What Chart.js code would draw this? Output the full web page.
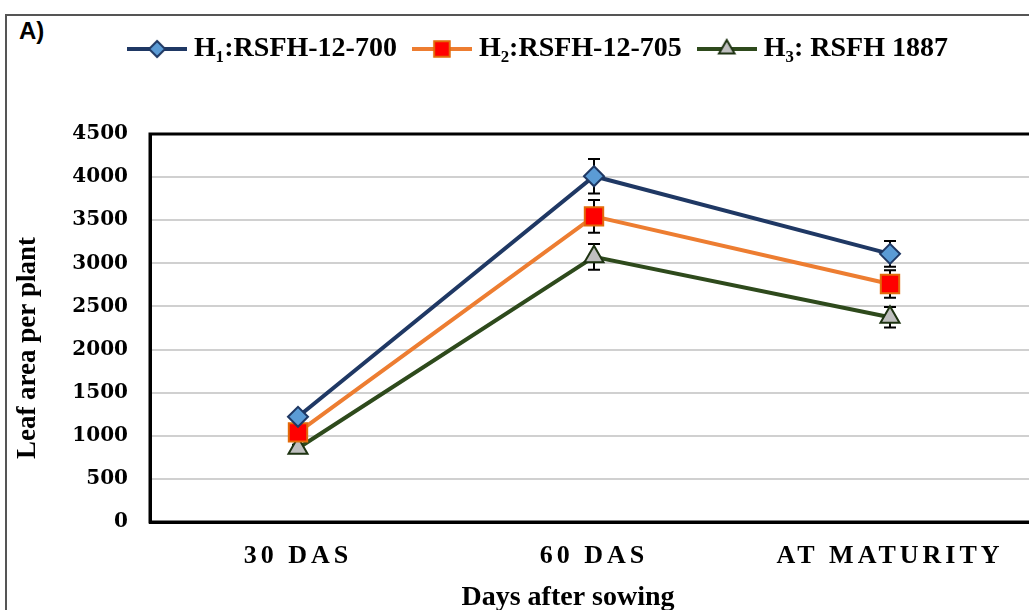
<!DOCTYPE html>
<html>
<head>
<meta charset="utf-8">
<script src="https://cdn.jsdelivr.net/npm/chart.js@4.4.1/dist/chart.umd.min.js"></script>
<style>
  html, body { margin: 0; padding: 0; background: #fff; overflow: hidden; width: 1029px; height: 610px; }
  .frame { position: absolute; left: 5px; top: 14px; width: 1100px; height: 700px; border: 2px solid #555; }
  .tag { position: absolute; left: 19px; top: 17px; font: bold 24px "Liberation Sans", Arial, sans-serif; color: #000; }
  #wrap { position: absolute; left: 0; top: 0; width: 1053px; height: 610px; }
</style>
</head>
<body>
<div class="frame"></div>
<div class="tag">A)</div>
<div id="wrap"><canvas id="leafChart" width="1053" height="610"></canvas></div>
<script>
// data
const categories = ["30 DAS", "60 DAS", "AT MATURITY"];
const seriesNames = ["H\u2081:RSFH-12-700", "H\u2082:RSFH-12-705", "H\u2083: RSFH 1887"];
const h1Values = [1220, 4010, 3110];
const h2Values = [1040, 3545, 2760];
const h3Values = [855, 3075, 2375];
const h1Errors = [40, 200, 150];
const h2Errors = [40, 190, 160];
const h3Errors = [40, 150, 120];
const yTicks = [0, 500, 1000, 1500, 2000, 2500, 3000, 3500, 4000, 4500];

const serif = "'Liberation Serif', 'Times New Roman', serif";

// marker + line sample for the legend
function legendIcon(lineColor, fill, border, style, radius) {
  const c = document.createElement("canvas");
  c.width = 60;
  c.height = 26;
  const g = c.getContext("2d");
  g.strokeStyle = lineColor;
  g.lineWidth = 4;
  g.beginPath();
  g.moveTo(0, 13);
  g.lineTo(60, 13);
  g.stroke();
  g.fillStyle = fill;
  g.strokeStyle = border;
  g.lineWidth = 2;
  g.beginPath();
  if (style === "rectRot") {
    g.moveTo(30, 13 - radius); g.lineTo(30 + radius, 13); g.lineTo(30, 13 + radius); g.lineTo(30 - radius, 13);
  } else if (style === "rect") {
    const s = radius * Math.SQRT1_2;
    g.rect(30 - s, 13 - s, 2 * s, 2 * s);
  } else {
    g.moveTo(30, 13 - radius); g.lineTo(30 + radius * 0.866, 13 + radius * 0.5); g.lineTo(30 - radius * 0.866, 13 + radius * 0.5);
  }
  g.closePath();
  g.fill();
  g.stroke();
  return c;
}

const styles = [
  { line: "#1f3864", fill: "#5b9bd5", border: "#1f3864", point: "rectRot", r: 10 },
  { line: "#ed7d31", fill: "#ff0000", border: "#e26b0a", point: "rect", r: 13 },
  { line: "#2e4a1c", fill: "#bfbfbf", border: "#1e3312", point: "triangle", r: 11 },
];
const allValues = [h1Values, h2Values, h3Values];
const allErrors = [h1Errors, h2Errors, h3Errors];

const datasets = allValues.map((vals, i) => ({
  label: seriesNames[i],
  data: vals,
  errors: allErrors[i],
  borderColor: styles[i].line,
  borderWidth: 4,
  backgroundColor: styles[i].fill,
  pointStyle: styles[i].point,
  pointRadius: styles[i].r,
  pointBackgroundColor: styles[i].fill,
  pointBorderColor: styles[i].border,
  pointBorderWidth: 2,
  tension: 0,
}));

// empty band between the legend and the plot
const spacer = {
  id: "spacer",
  beforeInit(chart) {
    Chart.layouts.addBox(chart, {
      position: "top",
      weight: 500,
      fullSize: true,
      options: {},
      top: 0, bottom: 0, left: 0, right: 0, width: 0, height: 0,
      isHorizontal() { return true; },
      update(maxWidth) { this.width = maxWidth; this.height = 61; },
      draw() {},
    });
  },
};

const errorBars = {
  id: "errorBars",
  beforeDatasetsDraw(chart) {
    const ctx = chart.ctx;
    const y = chart.scales.y;
    ctx.save();
    ctx.strokeStyle = "#000";
    ctx.lineWidth = 2;
    chart.data.datasets.forEach((ds, di) => {
      const meta = chart.getDatasetMeta(di);
      meta.data.forEach((pt, i) => {
        const top = y.getPixelForValue(ds.data[i] + ds.errors[i]);
        const bot = y.getPixelForValue(ds.data[i] - ds.errors[i]);
        ctx.beginPath();
        ctx.moveTo(pt.x, top); ctx.lineTo(pt.x, bot);
        ctx.moveTo(pt.x - 6, top); ctx.lineTo(pt.x + 6, top);
        ctx.moveTo(pt.x - 6, bot); ctx.lineTo(pt.x + 6, bot);
        ctx.stroke();
      });
    });
    ctx.restore();
  },
  afterDraw(chart) {
    // dark box round the plot area
    const a = chart.chartArea;
    const ctx = chart.ctx;
    ctx.save();
    ctx.strokeStyle = "#000";
    ctx.lineWidth = 3;
    ctx.strokeRect(a.left, a.top, a.right - a.left, a.bottom - a.top);
    ctx.restore();
  },
  afterLayout(chart) {
    // legend sits a little right of centre in the original
    chart.legend.left += 12;
    chart.legend.right += 12;
  },
  afterUpdate(chart) {
    const sx = chart.scales.x;
    const sy = chart.scales.y;
    if (!sx._patched) {
      const origLabels = sx.drawLabels;
      sx.drawLabels = function (area) {
        const c = this.ctx;
        const old = c.letterSpacing;
        c.letterSpacing = "4px";
        origLabels.call(this, area);
        c.letterSpacing = old;
      };
      const origTitle = sx.drawTitle;
      sx.drawTitle = function () {
        this.ctx.save();
        this.ctx.translate(-26, 0);
        origTitle.call(this);
        this.ctx.restore();
      };
      const origYTitle = sy.drawTitle;
      sy.drawTitle = function () {
        this.ctx.save();
        this.ctx.translate(0, 20);
        origYTitle.call(this);
        this.ctx.restore();
      };
      sx._patched = true;
    }
  },
};

const ctx = document.getElementById("leafChart");

const leafChart = new Chart(ctx, {
  type: "line",
  data: { labels: categories, datasets: datasets },
  options: {
    responsive: false,
    animation: false,
    devicePixelRatio: 1,
    layout: { padding: { left: 12, right: 7, top: 13, bottom: 0 } },
    plugins: {
      tooltip: { enabled: false },
      legend: {
        display: true,
        position: "top",
        labels: {
          usePointStyle: true,
          pointStyleWidth: 46,
          padding: 22,
          color: "#000",
          font: { family: serif, size: 28, weight: "bold" },
          generateLabels(chart) {
            return chart.data.datasets.map((ds, i) => ({
              text: ds.label,
              fontColor: "#000",
              pointStyle: legendIcon(styles[i].line, styles[i].fill, styles[i].border, styles[i].point, styles[i].r - 2),
              lineWidth: 0,
              strokeStyle: "transparent",
              fillStyle: "transparent",
              datasetIndex: i,
              hidden: false,
            }));
          },
        },
      },
    },
    scales: {
      x: {
        offset: true,
        grid: { display: false, drawTicks: false, offset: true },
        border: { display: true, color: "#000", width: 3 },
        ticks: {
          padding: 19,
          color: "#000",
          font: { family: serif, size: 26, weight: "bold" },
        },
        title: {
          display: true,
          text: "Days after sowing",
          color: "#000",
          font: { family: serif, size: 28, weight: "bold", lineHeight: 0.9 },
          padding: { top: 6, bottom: 0 },
        },
        afterFit(scale) { scale.height = 88; },
      },
      y: {
        min: 0,
        max: 4500,
        afterBuildTicks(scale) { scale.ticks = yTicks.map((v) => ({ value: v })); },
        grid: { color: "#d0d0d0", lineWidth: 2, drawTicks: false },
        border: { display: true, color: "#000", width: 3 },
        ticks: {
          padding: 22,
          color: "#000",
          font: { family: "'DejaVu Serif', serif", size: 20, weight: "bold" },
          callback: (v) => String(v),
        },
        title: {
          display: true,
          text: "Leaf area per plant",
          color: "#000",
          font: { family: serif, size: 27, weight: "bold" },
          padding: { top: 0, bottom: 0 },
        },
        afterFit(scale) { scale.width = 138; },
      },
    },
  },
  plugins: [spacer, errorBars],
});
</script>
</body>
</html>
